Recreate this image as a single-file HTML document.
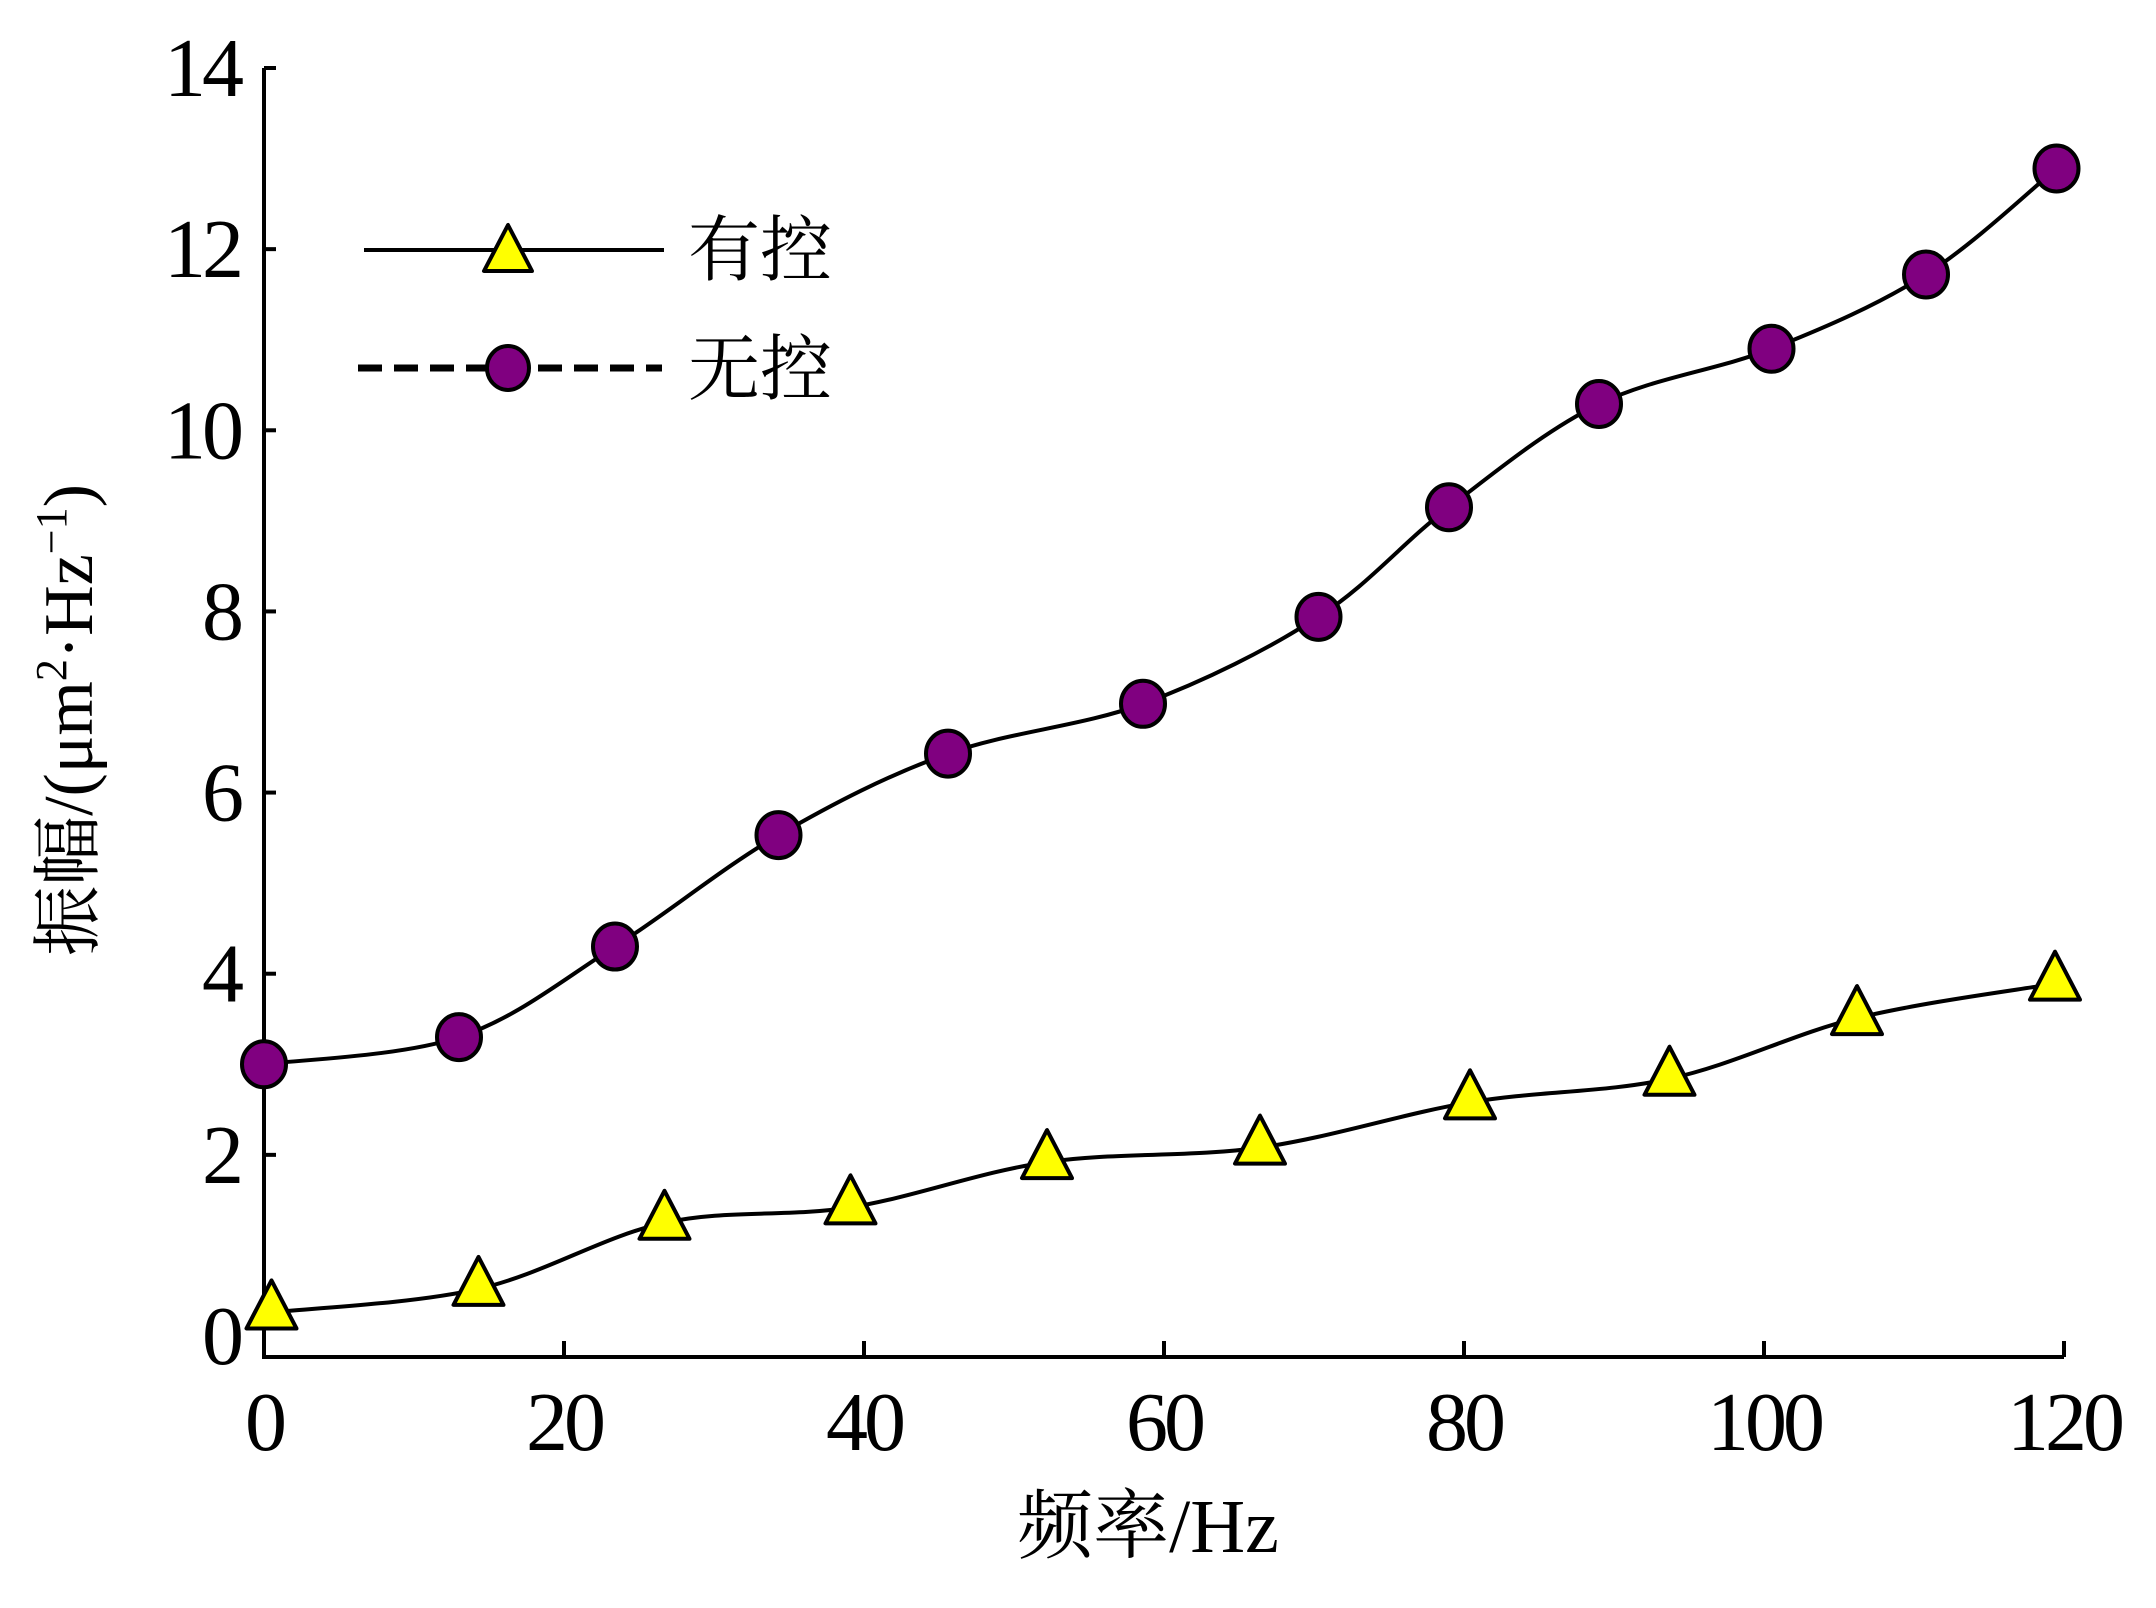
<!DOCTYPE html>
<html><head><meta charset="utf-8"><style>
html,body{margin:0;padding:0;background:#fff;}
svg{display:block;}
text{font-family:"Liberation Serif","Noto Serif CJK SC","Noto Sans CJK SC",serif;fill:#000;}
</style></head><body>
<svg id="chart" width="2156" height="1608" viewBox="0 0 2156 1608" xmlns="http://www.w3.org/2000/svg">
<g id="axes"></g>
<g id="series"></g>
<g id="legend">
  <line x1="364" y1="250" x2="664" y2="250" stroke="#000" stroke-width="4"/>
  <polygon points="508,225 484,271 532,271" fill="#ffff00" stroke="#000" stroke-width="4" stroke-linejoin="round"/>
  <text x="688" y="275" font-size="72" font-family="'Noto Serif CJK SC','Noto Sans CJK SC',serif">有控</text>
  <line x1="358" y1="368" x2="662" y2="368" stroke="#000" stroke-width="7" stroke-dasharray="24,12"/>
  <ellipse cx="508" cy="368" rx="21" ry="22" fill="#800080" stroke="#000" stroke-width="4"/>
  <text x="688" y="394" font-size="72" font-family="'Noto Serif CJK SC','Noto Sans CJK SC',serif">无控</text>
</g>
<text x="1148" y="1552" font-size="76" text-anchor="middle">频率/Hz</text>
<text transform="translate(92,720) rotate(-90)" font-size="70" text-anchor="middle">振幅/(μm<tspan font-size="44" dy="-26">2</tspan><tspan dy="26">·Hz</tspan><tspan font-size="44" dy="-26">−1</tspan><tspan dy="26">)</tspan></text>
</svg>
<script>
const xTicks = [0, 20, 40, 60, 80, 100, 120];
const yTicks = [0, 2, 4, 6, 8, 10, 12, 14];
const uncontrolledX = [0, 13, 23.4, 34.3, 45.6, 58.6, 70.3, 79, 89, 100.5, 110.8, 119.5];
const uncontrolledY = [3.0, 3.3, 4.3, 5.53, 6.43, 6.98, 7.94, 9.15, 10.29, 10.9, 11.72, 12.89];
const controlledX = [0.5, 14.3, 26.7, 39.1, 52.2, 66.4, 80.4, 93.7, 106.2, 119.4];
const controlledY = [0.26, 0.52, 1.25, 1.42, 1.92, 2.08, 2.58, 2.84, 3.51, 3.89];

const NS = 'http://www.w3.org/2000/svg';
const X0 = 264, X1 = 2064, Y0 = 1336, Y1 = 68, AXIS_Y = 1357;
function sx(v){ return X0 + (v - 0) / 120 * (X1 - X0); }
function sy(v){ return Y0 - v / 14 * (Y0 - Y1); }
function mk(tag, attrs, parent){
  const e = document.createElementNS(NS, tag);
  for (const k in attrs) e.setAttribute(k, attrs[k]);
  parent.appendChild(e);
  return e;
}
const axes = document.getElementById('axes');
const series = document.getElementById('series');

let el = mk('line', {x1:X0, y1:Y1, x2:X0, y2:AXIS_Y, stroke:'#000', 'stroke-width':4}, axes);


el = mk('line', {x1:X0-2, y1:AXIS_Y, x2:X1, y2:AXIS_Y, stroke:'#000', 'stroke-width':4}, axes);



yTicks.forEach(function(t){
  if (t > 0) {
    const tk = mk('line', {x1:X0, y1:sy(t), x2:X0+12, y2:sy(t), stroke:'#000', 'stroke-width':4}, axes);
    
    
  }
  const lb = mk('text', {x:X0-24, y:sy(t)+28, 'font-size':84, 'text-anchor':'end', 'letter-spacing':'-4'}, axes);
  lb.textContent = t;
  
  
});
xTicks.forEach(function(t){
  if (t > 0) {
    const tk = mk('line', {x1:sx(t), y1:AXIS_Y, x2:sx(t), y2:AXIS_Y-16, stroke:'#000', 'stroke-width':4}, axes);
    
    
  }
  const lb = mk('text', {x:sx(t), y:1450, 'font-size':84, 'text-anchor':'middle', 'letter-spacing':'-4'}, axes);
  lb.textContent = t;
  
  
});

function smoothPath(xs, ys){
  const p = xs.map(function(x,i){ return [sx(x), sy(ys[i])]; });
  let d = 'M' + p[0][0] + ',' + p[0][1];
  for (let i = 0; i < p.length - 1; i++){
    const a = p[Math.max(i-1,0)], b = p[i], c = p[i+1], e = p[Math.min(i+2,p.length-1)];
    const c1x = b[0] + (c[0]-a[0])/6, c1y = b[1] + (c[1]-a[1])/6;
    const c2x = c[0] - (e[0]-b[0])/6, c2y = c[1] - (e[1]-b[1])/6;
    d += ' C' + c1x + ',' + c1y + ' ' + c2x + ',' + c2y + ' ' + c[0] + ',' + c[1];
  }
  return d;
}
el = mk('path', {d:smoothPath(uncontrolledX, uncontrolledY), fill:'none', stroke:'#000', 'stroke-width':4}, series);


el = mk('path', {d:smoothPath(controlledX, controlledY), fill:'none', stroke:'#000', 'stroke-width':4}, series);



uncontrolledX.forEach(function(x, i){
  const c = mk('ellipse', {cx:sx(x), cy:sy(uncontrolledY[i]), rx:22, ry:23, fill:'#800080', stroke:'#000', 'stroke-width':4}, series);
  
  
});
controlledX.forEach(function(x, i){
  const cx = sx(x), cy = sy(controlledY[i]);
  const t = mk('polygon', {points:(cx)+','+(cy-32)+' '+(cx-25)+','+(cy+16)+' '+(cx+25)+','+(cy+16), fill:'#ffff00', stroke:'#000', 'stroke-width':4, 'stroke-linejoin':'round'}, series);
  
  
});
</script>
</body></html>
